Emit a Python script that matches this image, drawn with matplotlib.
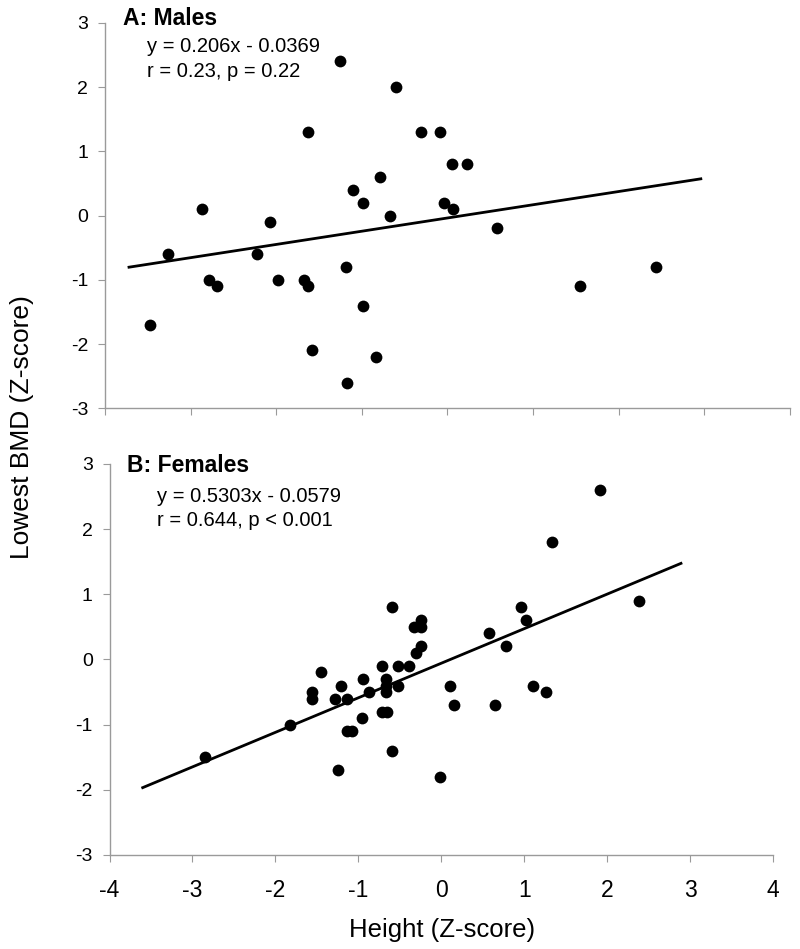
import matplotlib
matplotlib.use("Agg")
import matplotlib.pyplot as plt
import numpy as np

plt.rcParams["font.family"] = ["Liberation Sans", "DejaVu Sans"]
plt.rcParams["axes.unicode_minus"] = False

# Panel A: males
male_height = [-1.26, -0.60, -1.63, -0.79, -1.10, -0.99, -0.67, -2.87,
               -0.31, -0.09, 0.05, 0.23, -0.04, 0.07, -2.07, -3.27,
               -2.22, -2.78, -2.69, -1.98, -1.67, -1.63, -1.18, -0.99,
               -3.47, -1.58, -0.84, -1.17, 0.58, 1.55, 2.44]
male_bmd = [2.4, 2.0, 1.3, 0.6, 0.4, 0.2, 0.0, 0.1,
            1.3, 1.3, 0.8, 0.8, 0.2, 0.1, -0.1, -0.6,
            -0.6, -1.0, -1.1, -1.0, -1.0, -1.1, -0.8, -1.4,
            -1.7, -2.1, -2.2, -2.6, -0.2, -1.1, -0.8]
male_fit = (0.206, -0.0369)
male_fit_x = [-3.72, 2.96]

# Panel B: females
female_height = [-2.85, -1.82, -1.45, -1.56, -1.56, -1.28, -1.21, -1.14,
                 -0.94, -0.87, -0.96, -1.14, -1.08, -1.24, -0.72, -0.67,
                 -0.67, -0.67, -0.72, -0.65, -0.59, -0.52, -0.52, -0.39,
                 -0.30, -0.24, -0.33, -0.24, -0.24, -0.59, 0.10, 0.15,
                 -0.02, 0.58, 0.78, 0.96, 1.02, 0.65, 1.10, 1.26,
                 1.34, 1.91, 2.38]
female_bmd = [-1.5, -1.0, -0.2, -0.5, -0.6, -0.6, -0.4, -0.6,
              -0.3, -0.5, -0.9, -1.1, -1.1, -1.7, -0.1, -0.3,
              -0.4, -0.5, -0.8, -0.8, -1.4, -0.1, -0.4, -0.1,
              0.1, 0.2, 0.5, 0.5, 0.6, 0.8, -0.4, -0.7,
              -1.8, 0.4, 0.2, 0.8, 0.6, -0.7, -0.4, -0.5,
              1.8, 2.6, 0.9]
female_fit = (0.5303, -0.0579)
female_fit_x = [-3.60, 2.89]

x_ticks = [-4, -3, -2, -1, 0, 1, 2, 3, 4]
y_ticks = [-3, -2, -1, 0, 1, 2, 3]

SPINE = "#9a9a9a"


def style_axes(ax, show_xlabels):
    ax.set_xlim(-4, 4)
    ax.set_ylim(-3, 3)
    ax.set_xticks(x_ticks)
    ax.set_yticks(y_ticks)
    for side in ("top", "right"):
        ax.spines[side].set_visible(False)
    for side in ("left", "bottom"):
        ax.spines[side].set_color(SPINE)
        ax.spines[side].set_linewidth(1.0)
    ax.tick_params(axis="both", direction="out", length=5, width=0.8, color=SPINE)
    ax.tick_params(axis="y", labelsize=14, pad=7)
    ax.tick_params(axis="x", labelsize=16.5, pad=12)
    if not show_xlabels:
        ax.set_xticklabels([])


def draw_panel(ax, hx, by, fit, fit_x, title, eq, stats, tx, ty, ex, ey1, ey2):
    ax.scatter(hx, by, s=72, color="black", zorder=3, linewidths=0)
    xs = np.array(fit_x)
    ax.plot(xs, fit[0] * xs + fit[1], color="black", lw=2.0, zorder=2)
    ax.text(tx, ty, title, transform=ax.transAxes, fontsize=16.5,
            fontweight="bold", ha="left", va="baseline")
    ax.text(ex, ey1, eq, transform=ax.transAxes, fontsize=14.5,
            ha="left", va="baseline")
    ax.text(ex, ey2, stats, transform=ax.transAxes, fontsize=14.5,
            ha="left", va="baseline")


fig = plt.figure(figsize=(8, 9.49), dpi=100)
ax_a = fig.add_axes([0.1313, 0.5698, 0.856, 0.406])
ax_b = fig.add_axes([0.1369, 0.0991, 0.8294, 0.412])

draw_panel(ax_a, male_height, male_bmd, male_fit, male_fit_x,
           "A: Males", "y = 0.206x - 0.0369", "r = 0.23, p = 0.22",
           0.026, 0.995, 0.062, 0.9255, 0.859)
draw_panel(ax_b, female_height, female_bmd, female_fit, female_fit_x,
           "B: Females", "y = 0.5303x - 0.0579", "r = 0.644, p < 0.001",
           0.026, 0.979, 0.072, 0.9036, 0.842)

style_axes(ax_a, show_xlabels=False)
style_axes(ax_b, show_xlabels=True)

fig.text(0.028, 0.5495, "Lowest BMD (Z-score)", rotation=90, fontsize=19,
         ha="center", va="center")
fig.text(442 / 800, 0.02, "Height (Z-score)", fontsize=18.5,
         ha="center", va="center")

fig.savefig("out.png", dpi=100)
plt.close(fig)
